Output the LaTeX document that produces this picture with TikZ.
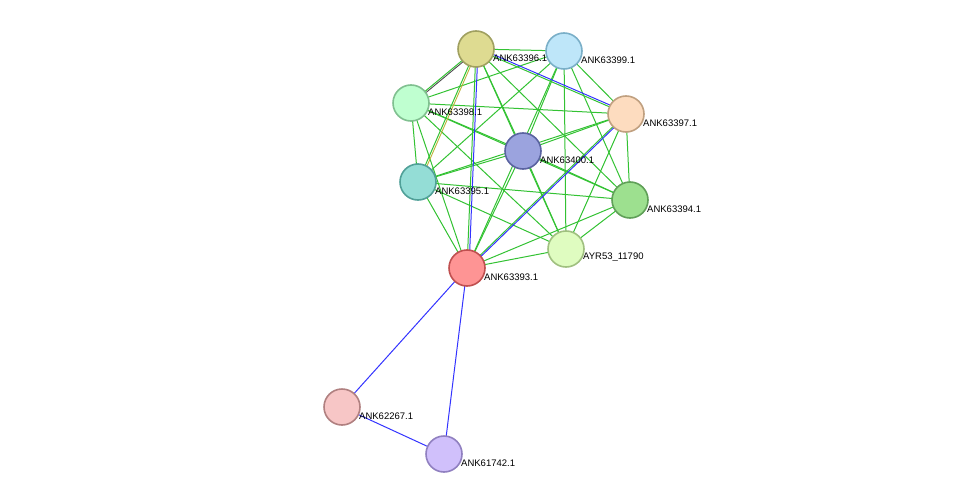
\documentclass[tikz,border=0pt]{standalone}
\usepackage{fontspec}
\setmainfont{Liberation Sans}
\definecolor{fa}{HTML}{DEDB91}\definecolor{da}{HTML}{A0A060}
\definecolor{fb}{HTML}{BEE6F9}\definecolor{db}{HTML}{7AAFC8}
\definecolor{fc}{HTML}{BFFFD0}\definecolor{dc}{HTML}{80C090}
\definecolor{fd}{HTML}{FDDCBF}\definecolor{dd}{HTML}{C0A080}
\definecolor{fe}{HTML}{9BA3DE}\definecolor{de}{HTML}{5A63A0}
\definecolor{ff}{HTML}{94DDD6}\definecolor{df}{HTML}{50A098}
\definecolor{fh}{HTML}{9DE08F}\definecolor{dh}{HTML}{60A058}
\definecolor{fi}{HTML}{DFFCC0}\definecolor{di}{HTML}{A0C080}
\definecolor{fj}{HTML}{FE9494}\definecolor{dj}{HTML}{C05050}
\definecolor{fk}{HTML}{F7C6C6}\definecolor{dk}{HTML}{B08080}
\definecolor{fl}{HTML}{D0C0FB}\definecolor{dl}{HTML}{9080C0}
\begin{document}
\begin{tikzpicture}[x=1pt,y=-1pt,
  nd/.style={circle,draw,line width=1.6pt,minimum size=36pt,inner sep=0pt},
  lb/.style={font=\fontsize{9.5}{10}\selectfont,anchor=south west,inner sep=1pt},
  g/.style={draw=green!70!black!80,line width=1pt},
  b/.style={draw=blue!80,line width=1pt}]
\useasboundingbox (0,0) rectangle (976,500);
\foreach \n/\x/\y in {a/476/49, b/564/51, c/411/103, d/626/114, e/523/151,
 f/418/182, h/630/200, i/566/249, j/467/268, k/342/407, l/444/454}
  \coordinate (\n) at (\x,\y);
\foreach \p/\q in {a/b,a/c,a/d,a/e,a/f,a/h,a/i,a/j,b/c,b/d,b/e,b/f,b/h,b/i,b/j,
 c/d,c/e,c/f,c/h,c/i,c/j,d/e,d/f,d/h,d/i,d/j,e/f,e/h,e/i,e/j,f/h,f/i,f/j,h/i,h/j,i/j}
 \draw[g] (\p) -- (\q);
\draw[b] ([xshift=2pt]a) -- ([xshift=2pt]j);
\draw[b] ([yshift=2pt]a) -- ([yshift=2pt]d);
\draw[b] ([xshift=2pt]d) -- ([xshift=2pt]j);
\draw[draw=yellow!70!black,line width=0.9pt] ([xshift=2pt]a) -- ([xshift=2pt]f);
\draw[draw=black!70,line width=0.9pt] ([yshift=-2pt]a) -- ([yshift=-2pt]c);
\draw[b] (j) -- (k); \draw[b] (j) -- (l); \draw[b] (k) -- (l);
\foreach \n/\t in {a/ANK63396.1,b/ANK63399.1,c/ANK63398.1,d/ANK63397.1,e/ANK63400.1,
 f/ANK63395.1,h/ANK63394.1,i/AYR53\_11790,j/ANK63393.1,k/ANK62267.1,l/ANK61742.1}{
  \node[nd,fill=f\n,draw=d\n] (n\n) at (\n) {};
  \node[lb] (t\n) at ([xshift=16pt,yshift=-14pt]\n) {\t};}
\end{tikzpicture}
\end{document}
